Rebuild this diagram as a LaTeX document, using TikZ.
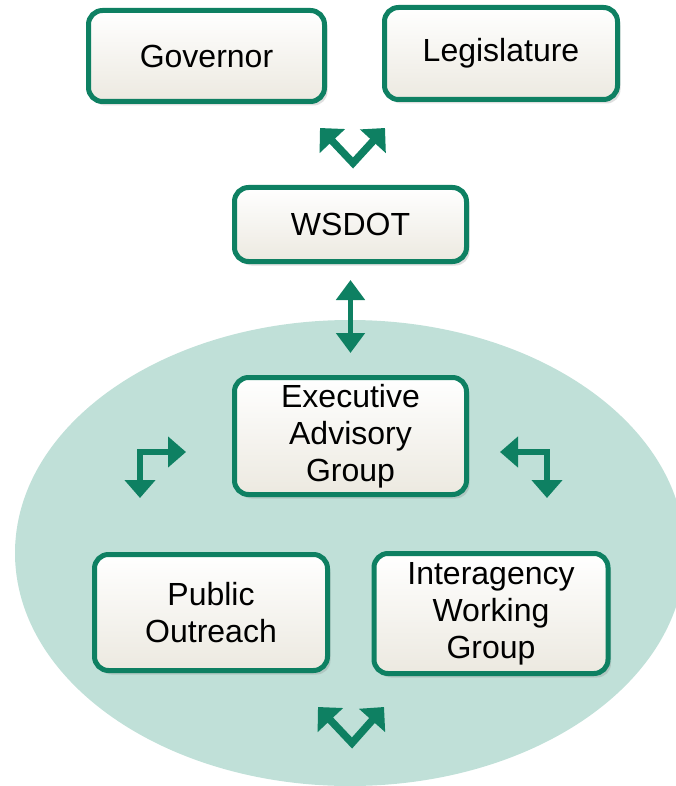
\documentclass[tikz,border=0pt]{standalone}
\usepackage{fontspec}
\setmainfont{Liberation Sans}
\usetikzlibrary{arrows.meta,shadows}
\definecolor{wsgreen}{RGB}{14,128,98}
\definecolor{ovalfill}{RGB}{192,224,216}
\definecolor{boxbeige}{RGB}{236,233,224}

\begin{document}
\begin{tikzpicture}
  [x=0.5pt,y=-0.5pt,
   orgbox/.style={draw=wsgreen,line width=2.5pt,rounded corners=7pt,
     top color=white,bottom color=boxbeige,align=center,inner sep=0pt,
     font=\fontsize{16}{18.5}\selectfont,
     drop shadow={opacity=0.25,shadow xshift=1.5pt,shadow yshift=-2pt}},
   twoway/.style={wsgreen,line width=3.75pt,line join=miter,
     {Triangle[length=9pt,width=17pt]}-{Triangle[length=9pt,width=17pt]}},
   bent/.style={wsgreen,line width=3pt,line join=miter,
     {Triangle[length=9pt,width=15pt]}-{Triangle[length=9pt,width=15pt]}}]
  \useasboundingbox (0,0) rectangle (675,786);
  \fill[ovalfill] (350,553) ellipse [x radius=167.5pt,y radius=116.5pt];
  \node[orgbox,minimum width=118pt,minimum height=45.5pt] (gov) at (206.5,56) {Governor};
  \node[orgbox,minimum width=116.5pt,minimum height=46pt] (leg) at (501,53.5) {Legislature};
  \node[orgbox,minimum width=116pt,minimum height=37pt] (wsdot) at (350.5,224.5) {WSDOT};
  \node[orgbox,minimum width=116pt,minimum height=58.5pt] (eag) at (350.5,436) {Executive\\Advisory\\Group};
  \node[orgbox,minimum width=116.5pt,minimum height=58pt] (pub) at (211,612.5) {Public\\Outreach};
  \node[orgbox,minimum width=117pt,minimum height=60pt] (iwg) at (491,613.5) {Interagency\\Working\\Group};
  % free-standing arrow marks
  \coordinate (topl) at (320,128);
  \coordinate (topv) at (353,163);
  \coordinate (topr) at (385,128);
  \coordinate (botl) at (318,707);
  \coordinate (botv) at (352,743);
  \coordinate (botr) at (384,707);
  \coordinate (lefth) at (186,452);
  \coordinate (leftv) at (140,498);
  \coordinate (righth) at (500,452);
  \coordinate (rightv) at (547,498);
  \foreach \a/\b/\c in {topl/topv/topr,botl/botv/botr}
    \draw[twoway] (\a) -- (\b) -- (\c);
  \foreach \from/\to in {lefth/leftv,righth/rightv}
    \draw[bent] (\from) -| (\to);
  \draw[wsgreen,line width=2.5pt,shorten <=8pt,shorten >=11pt,
    {Triangle[length=10pt,width=14pt]}-{Triangle[length=10pt,width=14pt]}] (wsdot) -- (eag);
\end{tikzpicture}
\end{document}
